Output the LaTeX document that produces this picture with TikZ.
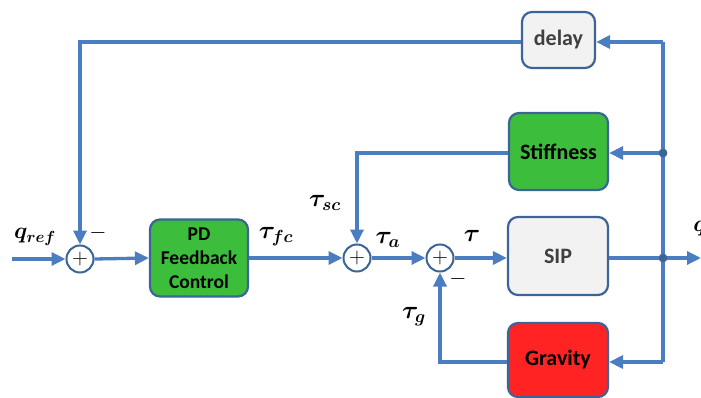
\RequirePackage{fix-cm}
\documentclass[tikz,border=0pt]{standalone}
\usepackage{amsmath,bm}
\usepackage{fontspec}
\newfontfamily\boxfont{Carlito}
\usetikzlibrary{arrows.meta}
\definecolor{lineblue}{RGB}{74,126,193}
\definecolor{edgeblue}{RGB}{60,100,150}
\definecolor{boxgreen}{RGB}{60,190,60}
\definecolor{boxred}{RGB}{255,35,35}
\definecolor{boxgray}{RGB}{242,242,242}
\definecolor{textgray}{RGB}{64,64,64}
\tikzset{
  blk/.style={draw=edgeblue, line width=2.2pt, rounded corners=10pt, font=\boxfont\bfseries\fontsize{22}{24}\selectfont, align=center, inner sep=0pt},
  sumnode/.style={circle, draw=edgeblue, line width=2pt, fill=white, minimum size=27pt, inner sep=0pt, font=\fontsize{22}{22}\selectfont},
  dotnode/.style={circle, fill=edgeblue, draw=edgeblue, minimum size=8pt, inner sep=0pt},
  conn/.style={draw=lineblue, line width=3.3pt},
  arr/.style={conn, -{Triangle[length=14pt,width=13pt]}},
  lbl/.style={font=\fontsize{25}{27}\selectfont, inner sep=0pt},
}
\begin{document}
\begin{tikzpicture}[x=1pt,y=-1pt]
\useasboundingbox (0,0) rectangle (701,398);
% blocks
\node[blk, fill=boxgreen, minimum width=98pt, minimum height=77pt, font=\boxfont\bfseries\fontsize{19.5}{24}\selectfont] (pd) at (199,258) {PD\\Feedback\\Control};
\node[blk, fill=boxgray, text=textgray, minimum width=100pt, minimum height=78pt] (sip) at (558,256) {SIP};
\node[blk, fill=boxred, minimum width=100pt, minimum height=74pt] (grav) at (558,360) {Gravity};
\node[blk, fill=boxgreen, minimum width=99pt, minimum height=77pt] (stiff) at (558.5,151.5) {Stiffness};
\node[blk, fill=boxgray, text=textgray, minimum width=73pt, minimum height=56pt] (delay) at (558.5,40) {delay};
% summing junctions
\node[sumnode] (s1) at (80,259) {$+$};
\node[sumnode] (s2) at (357,258) {$+$};
\node[sumnode] (s3) at (440,258) {$+$};
% branch points
\node[dotnode] (j1) at (663,258) {};
\node[dotnode] (j2) at (663,153) {};
\coordinate (in) at (12,259);
\coordinate (out) at (701,258);
\coordinate (ctop) at (663,42);
\coordinate (cbot) at (663,362);
\coordinate (dl) at (80,42);
\coordinate (sl) at (357,153);
\coordinate (gl) at (440,362);
% connectors
\draw[arr] (in) -- (s1.west);
\draw[arr] (s1.east) -- (pd.west);
\draw[arr] (pd.east |- s2) -- (s2.west);
\draw[arr] (s2.east) -- (s3.west);
\draw[arr] (s3.east) -- (sip.west |- s3);
\draw[arr] (sip.east |- j1) -- (out);
\draw[conn] (j1) -- (ctop);
\draw[conn] (j1) -- (cbot);
\draw[arr] (ctop) -- (delay.east |- ctop);
\draw[arr] (j2) -- (stiff.east |- j2);
\draw[arr] (cbot) -- (grav.east |- cbot);
\draw[arr] (delay.west |- dl) -- (dl) -- (s1.north);
\draw[arr] (stiff.west |- sl) -- (sl) -- (s2.north);
\draw[arr] (grav.west |- gl) -- (gl) -- (s3.south);
\node[dotnode] at (j1) {};
\node[dotnode] at (j2) {};
% labels
\node[lbl, font=\fontsize{23}{25}\selectfont] (lqref) at (35,237) {$\bm{q_{ref}}$};
\node[lbl, font=\fontsize{22}{24}\selectfont] (lm1) at (98,233) {$-$};
\node[lbl] (ltfc) at (276,237) {$\bm{\tau_{fc}}$};
\node[lbl] (ltsc) at (325,203) {$\bm{\tau_{sc}}$};
\node[lbl] (lta) at (388,240) {$\bm{\tau_{a}}$};
\node[lbl] (lt) at (472,236) {$\bm{\tau}$};
\node[lbl, font=\fontsize{22}{24}\selectfont] (lm2) at (458,279) {$-$};
\node[lbl] (ltg) at (414,317) {$\bm{\tau_{g}}$};
\node[lbl, font=\fontsize{23}{25}\selectfont] (lq) at (700,229) {$\bm{q}$};
\end{tikzpicture}
\end{document}
